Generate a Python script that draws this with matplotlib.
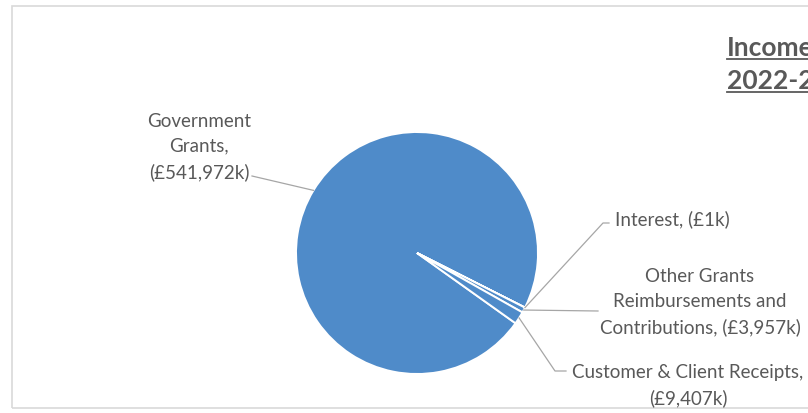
import numpy as np
import matplotlib
matplotlib.use("Agg")
import matplotlib.pyplot as plt
from matplotlib.lines import Line2D
from matplotlib.patches import Rectangle

plt.rcParams['font.family'] = ['Lato', 'DejaVu Sans']

# Income by source, £k
categories = ["Government Grants", "Interest",
              "Other Grants Reimbursements and Contributions",
              "Customer & Client Receipts"]
values = [541972, 1, 3957, 9407]
labels = ["Government\nGrants,\n(£541,972k)",
          "Interest, (£1k)",
          "Other Grants\nReimbursements and\nContributions, (£3,957k)",
          "Customer & Client Receipts,\n(£9,407k)"]
title_lines = ["Income", "2022-23"]

W, H = 808, 414
BLUE = "#4F8BC9"
GREY = "#595959"
LEADER = "#A6A6A6"


def fx(x):
    return x / W


def fy(y):
    # pixel rows counted from the top
    return 1 - y / H


fig = plt.figure(figsize=(W / 100, H / 100), dpi=100)
fig.patch.set_facecolor("white")

# chart area frame (runs off the right edge)
fig.add_artist(Rectangle((fx(12), fy(409)), fx(820 - 12), fy(7) - fy(409),
                         transform=fig.transFigure, fill=False,
                         edgecolor="#D9D9D9", linewidth=1.2))

# pie: centre (417, 254) px, radius 121 px
cx, cy, r = 417, 254, 121
ax = fig.add_axes([fx(cx - r), fy(cy + r), fx(2 * r), fy(cy - r) - fy(cy + r)])
wedges, _ = ax.pie(values, colors=[BLUE] * len(values), startangle=324.5,
                   counterclock=False, radius=1,
                   wedgeprops=dict(edgecolor="white", linewidth=1.4))
ax.set_xlim(-1, 1)
ax.set_ylim(-1, 1)
ax.set_aspect("equal")
ax.axis("off")


def rim_point(w):
    mid = np.deg2rad((w.theta1 + w.theta2) / 2)
    px, py = ax.transData.transform((np.cos(mid), np.sin(mid)))
    return px, H - py


# label centres (px) and leader elbows
label_pos = [(199, 147), (672, 219), (700, 302), (688, 386)]
leader_path = [[(252, 177)],
               [(609, 224), (603, 224)],
               [(598, 312)],
               [(566, 372), (555, 372)]]

for w, lab, (lx, ly), path in zip(wedges, labels, label_pos, leader_path):
    fig.text(fx(lx), fy(ly), lab, ha="center", va="center", color=GREY,
             fontsize=13.5, linespacing=1.55)
    pts = path + [rim_point(w)]
    fig.add_artist(Line2D([fx(p[0]) for p in pts], [fy(p[1]) for p in pts],
                          transform=fig.transFigure, color=LEADER,
                          linewidth=0.9))

# underlined title
title_texts = []
for line, base in zip(title_lines, [56, 89]):
    t = fig.text(fx(727), fy(base), line, ha="left", va="baseline",
                 color=GREY, fontsize=19, fontweight="bold")
    title_texts.append((t, base))

fig.canvas.draw()
renderer = fig.canvas.get_renderer()
for t, base in title_texts:
    bb = t.get_window_extent(renderer)
    fig.add_artist(Line2D([fx(bb.x0), fx(bb.x1)], [fy(base + 4)] * 2,
                          transform=fig.transFigure, color=GREY,
                          linewidth=1.3))

fig.savefig("out.png", dpi=100)
